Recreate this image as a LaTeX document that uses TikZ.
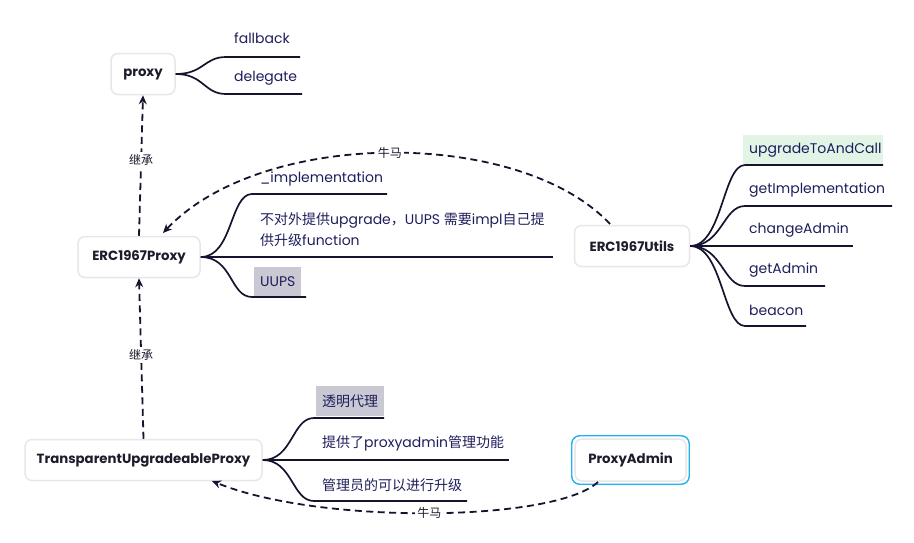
\documentclass[tikz,border=0pt]{standalone}
\usepackage{fontspec}
\setmainfont{Poppins}
\newfontfamily\cjk{Noto Sans CJK SC}
\usetikzlibrary{arrows.meta}
\definecolor{txtcol}{HTML}{1E1E5C}
\definecolor{titlecol}{HTML}{1C1C2C}
\definecolor{boxgray}{HTML}{E9E5E9}
\definecolor{linecol}{HTML}{14142E}
\definecolor{hlgray}{HTML}{C9C8D3}
\definecolor{hlgreen}{HTML}{E1F4E5}
\definecolor{selblue}{HTML}{1FB2F0}
\tikzset{
  topic/.style={draw=boxgray, line width=1.5pt, rounded corners=7pt, fill=white,
    font=\bfseries\fontsize{13.3}{15}\selectfont, text=titlecol, minimum height=41pt, inner xsep=0pt},
  lbl/.style={anchor=west, inner sep=0pt, text=txtcol, font=\fontsize{14}{21}\selectfont},
  cjklbl/.style={lbl, font=\cjk\fontsize{14}{21}\selectfont},
  hl/.style={lbl, inner xsep=6pt, minimum height=30pt},
  branch/.style={draw=linecol, line width=1.7pt},
  rel/.style={draw=linecol, line width=1.8pt, dash pattern=on 7pt off 4.5pt, -{Stealth[length=9pt,width=8pt]}},
  rellbl/.style={fill=white, inner sep=2pt, text=titlecol, font=\cjk\fontsize{12}{13}\selectfont}
}
\begin{document}
\begin{tikzpicture}[x=1pt,y=-1pt]
\useasboundingbox (0,0) rectangle (914,542);

% topics
\node[topic, minimum width=64pt] (proxy) at (143,74) {proxy};
\node[topic, minimum width=122pt] (erc) at (139,257) {ERC1967Proxy};
\node[topic, minimum width=115pt] (utils) at (632,246) {ERC1967Utils};
\node[topic, minimum width=237pt] (tup) at (143.5,460) {TransparentUpgradeableProxy};
\node[topic, minimum width=111pt, minimum height=42pt] (pa) at (630.5,460) {ProxyAdmin};
\draw[draw=selblue, line width=1.4pt, rounded corners=8pt]
  ([shift={(-2.5pt,-2.5pt)}]pa.south west) rectangle ([shift={(2.5pt,2.5pt)}]pa.north east);

% proxy branches
\node[lbl] (fb) at (234,38) {fallback};
\node[lbl] (dg) at (234,78) {delegate};
\coordinate (fbs) at (226,57); \coordinate (fbe) at (300,57);
\coordinate (dgs) at (226,94); \coordinate (dge) at (302,94);
\draw[branch] (proxy.east) .. controls +(28,0) and +(-22,0) .. (fbs) -- (fbe);
\draw[branch] (proxy.east) .. controls +(28,0) and +(-22,0) .. (dgs) -- (dge);

% ERC1967Proxy branches
\node[lbl] (impl) at (260,179) {\_implementation};
\node[lbl, align=left] (noup) at (260,230) {{\cjk 不对外提供}upgrade{\cjk ，}UUPS {\cjk 需要}impl{\cjk 自己提}\\{\cjk 供升级}function};
\node[hl, fill=hlgray] (uups) at (254,282) {UUPS};
\coordinate (is) at (252,194); \coordinate (ie) at (387,194);
\coordinate (ns) at (252,257); \coordinate (ne) at (553,257);
\coordinate (us) at (252,297); \coordinate (ue) at (306,297);
\draw[branch] (erc.east) .. controls +(32,0) and +(-22,0) .. (is) -- (ie);
\draw[branch] (erc.east) -- (ns) -- (ne);
\draw[branch] (erc.east) .. controls +(32,0) and +(-22,0) .. (us) -- (ue);

% ERC1967Utils branches
\node[hl, fill=hlgreen, text width=128pt, align=left] (u1) at (743,150) {upgradeToAndCall};
\node[lbl] (u2) at (749,190) {getImplementation};
\node[lbl] (u3) at (749,230) {changeAdmin};
\node[lbl] (u4) at (749,270) {getAdmin};
\node[lbl] (u5) at (749,310) {beacon};
\coordinate (u1s) at (745,165); \coordinate (u1e) at (883,165);
\coordinate (u2s) at (745,206); \coordinate (u2e) at (892,206);
\coordinate (u3s) at (745,246); \coordinate (u3e) at (853,246);
\coordinate (u4s) at (745,286); \coordinate (u4e) at (825,286);
\coordinate (u5s) at (745,326); \coordinate (u5e) at (806,326);
\draw[branch] (utils.east) .. controls +(32,0) and +(-22,0) .. (u1s) -- (u1e);
\draw[branch] (utils.east) .. controls +(32,0) and +(-22,0) .. (u2s) -- (u2e);
\draw[branch] (utils.east) -- (u3s) -- (u3e);
\draw[branch] (utils.east) .. controls +(32,0) and +(-22,0) .. (u4s) -- (u4e);
\draw[branch] (utils.east) .. controls +(32,0) and +(-22,0) .. (u5s) -- (u5e);

% TransparentUpgradeableProxy branches
\node[hl, fill=hlgray, font=\cjk\fontsize{14}{15}\selectfont] (t1) at (316,401) {透明代理};
\node[lbl] (t2) at (322,443) {{\cjk 提供了}proxyadmin{\cjk 管理功能}};
\node[cjklbl] (t3) at (322,485) {管理员的可以进行升级};
\coordinate (t1s) at (314,418); \coordinate (t1e) at (384,418);
\coordinate (t2s) at (314,460); \coordinate (t2e) at (509,460);
\coordinate (t3s) at (314,501); \coordinate (t3e) at (467,501);
\draw[branch] (tup.east) .. controls +(30,0) and +(-22,0) .. (t1s) -- (t1e);
\draw[branch] (tup.east) -- (t2s) -- (t2e);
\draw[branch] (tup.east) .. controls +(30,0) and +(-22,0) .. (t3s) -- (t3e);

% relations
\draw[rel] (erc.north) -- node[rellbl, pos=0.54] {继承} (proxy.south);
\draw[rel] (tup.north) -- node[rellbl, pos=0.52] {继承} (erc.south);
\coordinate (ua) at (610,224);
\coordinate (ea) at (163,233);
\draw[rel] (ua) .. controls (520,128) and (262,128) .. node[rellbl, pos=0.5] {牛马} (ea);
\coordinate (pa1) at (598,482);
\coordinate (ta) at (212,481);
\draw[rel] (pa1) .. controls (555,522) and (320,525) .. node[rellbl, pos=0.5] {牛马} (ta);
\end{tikzpicture}
\end{document}
